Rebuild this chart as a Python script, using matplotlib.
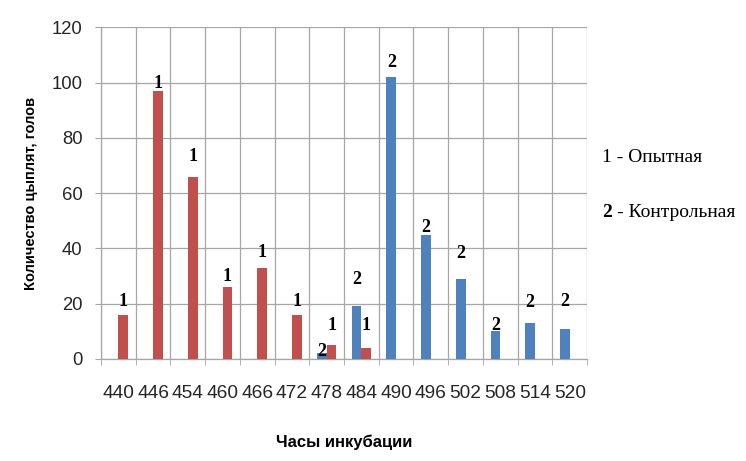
import numpy as np
import matplotlib.pyplot as plt

# часы инкубации и число цыплят по группам
hours = ['440', '446', '454', '460', '466', '472', '478', '484',
         '490', '496', '502', '508', '514', '520']
group1 = [16, 97, 66, 26, 33, 16, 5, 4, 0, 0, 0, 0, 0, 0]     # опытная
group2 = [0, 0, 0, 0, 0, 0, 2, 19, 102, 45, 29, 10, 13, 11]   # контрольная

# label offsets (pixels above bar top), as placed in the original
off1 = [13, 7, 20, 11, 15, 13, 20, 22, 0, 0, 0, 0, 0, 0]
off2 = [0, 0, 0, 0, 0, 0, 2, 27, 15, 7, 25, 6, 21, 27]

RED = '#C0504D'
BLUE = '#4F81BD'
GRID = '#A6A6A6'
SANS = ['Liberation Sans', 'DejaVu Sans']
SERIF = ['Liberation Serif', 'DejaVu Serif']

fig = plt.figure(figsize=(7.46, 4.61), dpi=100)
ax = fig.add_axes([0.1354, 0.2213, 0.6516, 0.7195])

x = np.arange(len(hours))
w = 0.28
ax.bar(x + w / 2, group1, width=w, color=RED, zorder=3)
ax.bar(x - w / 2, group2, width=w, color=BLUE, zorder=3)

lab_font = dict(family=SERIF, weight='bold', fontsize=13,
                ha='center', va='center')
for i in range(len(hours)):
    if group1[i] > 0:
        ax.annotate('1', (x[i] + w / 2, group1[i]), xytext=(0, off1[i]),
                    textcoords='offset pixels', zorder=4, **lab_font)
    if group2[i] > 0:
        ax.annotate('2', (x[i] - w / 2, group2[i]), xytext=(0, off2[i]),
                    textcoords='offset pixels', zorder=4, **lab_font)

ax.set_xlim(-0.5, len(hours) - 0.5)
ax.set_ylim(0, 120)
ax.set_yticks(range(0, 121, 20))
ax.set_xticks(x)
ax.set_xticklabels(hours)
ax.set_xticks(np.arange(len(hours) + 1) - 0.5, minor=True)
ax.tick_params(axis='x', which='major', length=0, pad=19)
ax.tick_params(axis='x', which='minor', length=4.3, color=GRID)
ax.tick_params(axis='y', length=4.3, color=GRID, pad=9)
for t in ax.get_xticklabels():
    t.set_family(SANS)
    t.set_fontsize(13.8)
    t.set_color('#262626')
for t in ax.get_yticklabels():
    t.set_family(SANS)
    t.set_fontsize(13.3)
    t.set_color('#262626')

ax.grid(True, which='minor', axis='x', color=GRID, lw=0.9, zorder=0)
ax.grid(True, which='major', axis='y', color=GRID, lw=0.9, zorder=0)
for s in ['top', 'right']:
    ax.spines[s].set_visible(False)
for s in ['left', 'bottom']:
    ax.spines[s].set_color(GRID)
    ax.spines[s].set_linewidth(0.9)

ax.set_xlabel('Часы инкубации', family=SANS, weight='bold', fontsize=12)
ax.xaxis.set_label_coords(0.5, -0.228)
ax.set_ylabel('Количество цыплят, голов', family=SANS, weight='bold',
              fontsize=10.5)
ax.yaxis.set_label_coords(-0.13, 0.5)

fig.text(602 / 746, 1 - 157 / 461, '1 - Опытная', family=SERIF,
         fontsize=14, va='center', ha='left')
fig.text(602 / 746, 1 - 212 / 461, '2', family=SERIF,
         weight='bold', fontsize=14, va='center', ha='left')
fig.text(617 / 746, 1 - 212 / 461, '- Контрольная', family=SERIF,
         fontsize=14, va='center', ha='left')

fig.savefig('out.png', dpi=100)
